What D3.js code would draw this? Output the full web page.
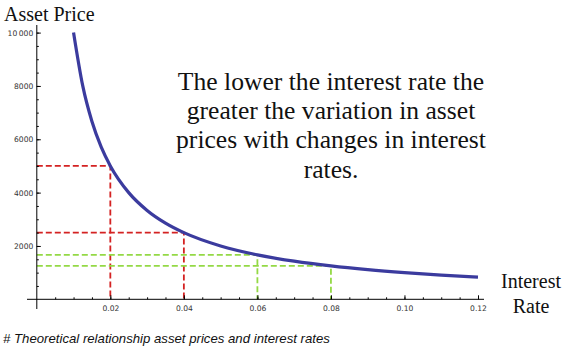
<!DOCTYPE html>
<html>
<head>
<meta charset="utf-8">
<script src="https://cdn.jsdelivr.net/npm/d3@7"></script>
<style>
html,body{margin:0;padding:0;background:#fff;}
svg{display:block;}
.serif{font-family:"Liberation Serif","Times New Roman",Times,serif;fill:#111;}
.tick text{font-family:"DejaVu Sans",Verdana,sans-serif;font-size:7.6px;fill:#333;}
.cap{font-family:"Liberation Sans",Arial,sans-serif;font-style:italic;fill:#111;}
</style>
</head>
<body>
<svg id="chart" width="573" height="356"></svg>
<script>
// ---- data ----
const rates  = [0.01, 0.0125, 0.015, 0.0175, 0.02, 0.025, 0.03, 0.035, 0.04, 0.05, 0.06, 0.07, 0.08, 0.09, 0.10, 0.11, 0.12];
const prices = [10000, 8000, 6667, 5714, 5000, 4000, 3333, 2857, 2500, 2000, 1667, 1429, 1250, 1111, 1000, 909, 833];
const guideRates  = [0.02, 0.04, 0.06, 0.08];
const guidePrices = [5000, 2500, 1667, 1250];
const xTicks = [0.02, 0.04, 0.06, 0.08, 0.10, 0.12];
const yTicks = [2000, 4000, 6000, 8000, 10000];
const yTitle = "Asset Price";
const xTitle = ["Interest", "Rate"];
const note = ["The lower the interest rate the", "greater the variation in asset", "prices with changes in interest", "rates."];
const caption = "# Theoretical relationship asset prices and interest rates";

// ---- drawing ----
const svg = d3.select("#chart");
const x = d3.scaleLinear().domain([0, 0.12]).range([36.8, 478]);
const y = d3.scaleLinear().domain([0, 10000]).range([299.3, 32.6]);
const guideColor = i => i < 2 ? "#d42222" : "#94d945";

// guides
const g = svg.append("g");
guideRates.forEach((r, i) => {
  g.append("path")
    .attr("d", `M${x(0)},${y(guidePrices[i])}H${x(r)}V${y(0)}`)
    .attr("fill", "none")
    .attr("stroke", guideColor(i))
    .attr("stroke-width", 1.8)
    .attr("stroke-dasharray", "6,3");
});

// curve
const pts = rates.map((r, i) => [r, prices[i]]);
svg.append("path")
  .datum(pts)
  .attr("d", d3.line().x(d => x(d[0])).y(d => y(d[1])).curve(d3.curveMonotoneX))
  .attr("fill", "none")
  .attr("stroke", "#3b3b9e")
  .attr("stroke-width", 3.2);

// axes lines
svg.append("line").attr("x1", 27).attr("x2", 484).attr("y1", y(0)).attr("y2", y(0))
  .attr("stroke", "#000").attr("stroke-width", 1);
svg.append("line").attr("x1", x(0)).attr("x2", x(0)).attr("y1", 25).attr("y2", 309)
  .attr("stroke", "#000").attr("stroke-width", 1);

// minor ticks
const xMinor = d3.range(0, 25).map(i => i * 0.005).filter(v => v > 0);
const yMinor = d3.range(0, 21).map(i => i * 500).filter(v => v > 0);
svg.append("g").attr("transform", `translate(0,${y(0)})`)
  .call(d3.axisBottom(x).tickValues(xMinor).tickSize(-2).tickFormat(""))
  .call(a => a.select(".domain").remove());
svg.append("g").attr("transform", `translate(${x(0)},0)`)
  .call(d3.axisLeft(y).tickValues(yMinor).tickSize(-2).tickFormat(""))
  .call(a => a.select(".domain").remove());

// major ticks
const fmtY = v => v >= 10000 ? "10\u2009000" : String(v);
const xa = svg.append("g").attr("transform", `translate(0,${y(0)})`)
  .call(d3.axisBottom(x).tickValues(xTicks).tickSize(-4).tickPadding(6).tickFormat(d3.format(".2f")));
xa.select(".domain").remove();
const ya = svg.append("g").attr("transform", `translate(${x(0)},0)`)
  .call(d3.axisLeft(y).tickValues(yTicks).tickSize(-4).tickPadding(3.5).tickFormat(fmtY));
ya.select(".domain").remove();
svg.selectAll(".tick text").attr("font-family", null).attr("font-size", null);

// titles
svg.append("text").attr("class", "serif").attr("x", 4).attr("y", 20.5)
  .style("font-size", "20px")
  .text(yTitle);
svg.append("text").attr("class", "serif").attr("text-anchor", "middle")
  .style("font-size", "20px")
  .selectAll("tspan").data(xTitle).join("tspan")
  .attr("x", 531).attr("y", (d, i) => 288 + i * 25).text(d => d);

// annotation
svg.append("text").attr("class", "serif").attr("text-anchor", "middle")
  .style("font-size", "25.6px")
  .selectAll("tspan").data(note).join("tspan")
  .attr("x", 331).attr("y", (d, i) => 90 + i * 29.2).text(d => d);

// caption
svg.append("text").attr("class", "cap").attr("x", 3).attr("y", 343)
  .style("font-size", "13.2px")
  .text(caption);
</script>
</body>
</html>
